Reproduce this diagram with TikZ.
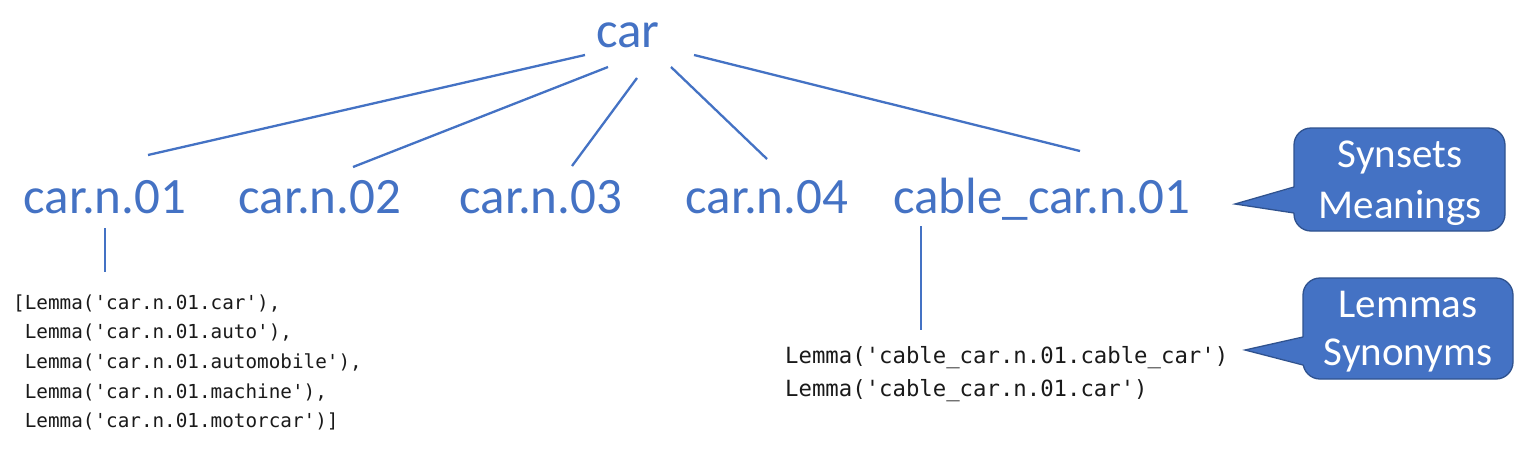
\documentclass[tikz,border=0pt]{standalone}
\usepackage{fontspec}
\setmainfont{Carlito}
\newfontfamily\codefont{DejaVu Sans Mono}[Ligatures=TeXOff]
\definecolor{accent}{HTML}{4472C4}
\definecolor{accentdark}{HTML}{2F528F}
\definecolor{codeink}{HTML}{1A1A1A}
\tikzset{
  term/.style={text=accent, font=\fontsize{51}{60}\selectfont, anchor=base, inner sep=0pt},
  link/.style={draw=accent, line width=2.3pt},
  codeA/.style={anchor=base west, inner sep=0pt, text=codeink, font=\codefont\fontsize{19.3}{24}\selectfont},
  codeB/.style={anchor=base west, inner sep=0pt, text=codeink, font=\codefont\fontsize{22.3}{26}\selectfont},
  callbox/.style={fill=accent, draw=accentdark, line width=1.3pt, rounded corners=17pt},
  calledge/.style={draw=accentdark, line width=1.3pt, line join=miter},
  calltext/.style={text=white, font=\fontsize{41}{48}\selectfont, anchor=base, inner sep=0pt}
}
\begin{document}
\begin{tikzpicture}[x=1pt,y=-1pt]
\useasboundingbox[fill=white] (0,0) rectangle (1535,469);

% tree terms
\node[term] (car) at (628,47) {car};
\node[term] (s1) at (105,213) {car.n.01};
\node[term] (s2) at (320,213) {car.n.02};
\node[term] (s3) at (541,213) {car.n.03};
\node[term] (s4) at (767,213) {car.n.04};
\node[term] (s5) at (1042,213) {cable\_car.n.01};

% connector ends
\coordinate (c1) at (585,55);
\coordinate (c2) at (608,67);
\coordinate (c3) at (637,78);
\coordinate (c4) at (671,67);
\coordinate (c5) at (694,55);
\coordinate (t1) at (148,155);
\coordinate (t2) at (353,167);
\coordinate (t3) at (572,166);
\coordinate (t4) at (767,159);
\coordinate (t5) at (1080,151);
\coordinate (b1) at (105,228);
\coordinate (l1) at (105,272);
\coordinate (b5) at (921,226);
\coordinate (l5) at (921,330);

\draw[link] (c1) -- (t1);
\draw[link] (c2) -- (t2);
\draw[link] (c3) -- (t3);
\draw[link] (c4) -- (t4);
\draw[link] (c5) -- (t5);
\draw[link] (b1) -- (l1);
\draw[link] (b5) -- (l5);

% lemma lists
\node[codeA] (la1) at (13,309) {[Lemma('car.n.01.car'),};
\node[codeA] (la2) at (13,338.7) {\hphantom{[}Lemma('car.n.01.auto'),};
\node[codeA] (la3) at (13,368.4) {\hphantom{[}Lemma('car.n.01.automobile'),};
\node[codeA] (la4) at (13,398.1) {\hphantom{[}Lemma('car.n.01.machine'),};
\node[codeA] (la5) at (13,427.8) {\hphantom{[}Lemma('car.n.01.motorcar')]};

\node[codeB] (lb1) at (785,363) {Lemma('cable\_car.n.01.cable\_car')};
\node[codeB] (lb2) at (785,396) {Lemma('cable\_car.n.01.car')};

% callout: synsets
\path[callbox] (1294,128) rectangle (1505,231);
\fill[accent] (1235,204) -- (1295.8,187) -- (1295.8,213) -- cycle;
\draw[calledge] (1294,187) -- (1235,204) -- (1294,213);
\node[calltext] (synA) at (1400,167) {Synsets};
\node[calltext] (synB) at (1400,218) {Meanings};

% callout: lemmas
\path[callbox] (1303,278) rectangle (1513,379);
\fill[accent] (1245,350) -- (1304.8,337) -- (1304.8,365) -- cycle;
\draw[calledge] (1303,337) -- (1245,350) -- (1303,365);
\node[calltext] (lemA) at (1408,317) {Lemmas};
\node[calltext] (lemB) at (1408,365) {Synonyms};
\end{tikzpicture}
\end{document}
